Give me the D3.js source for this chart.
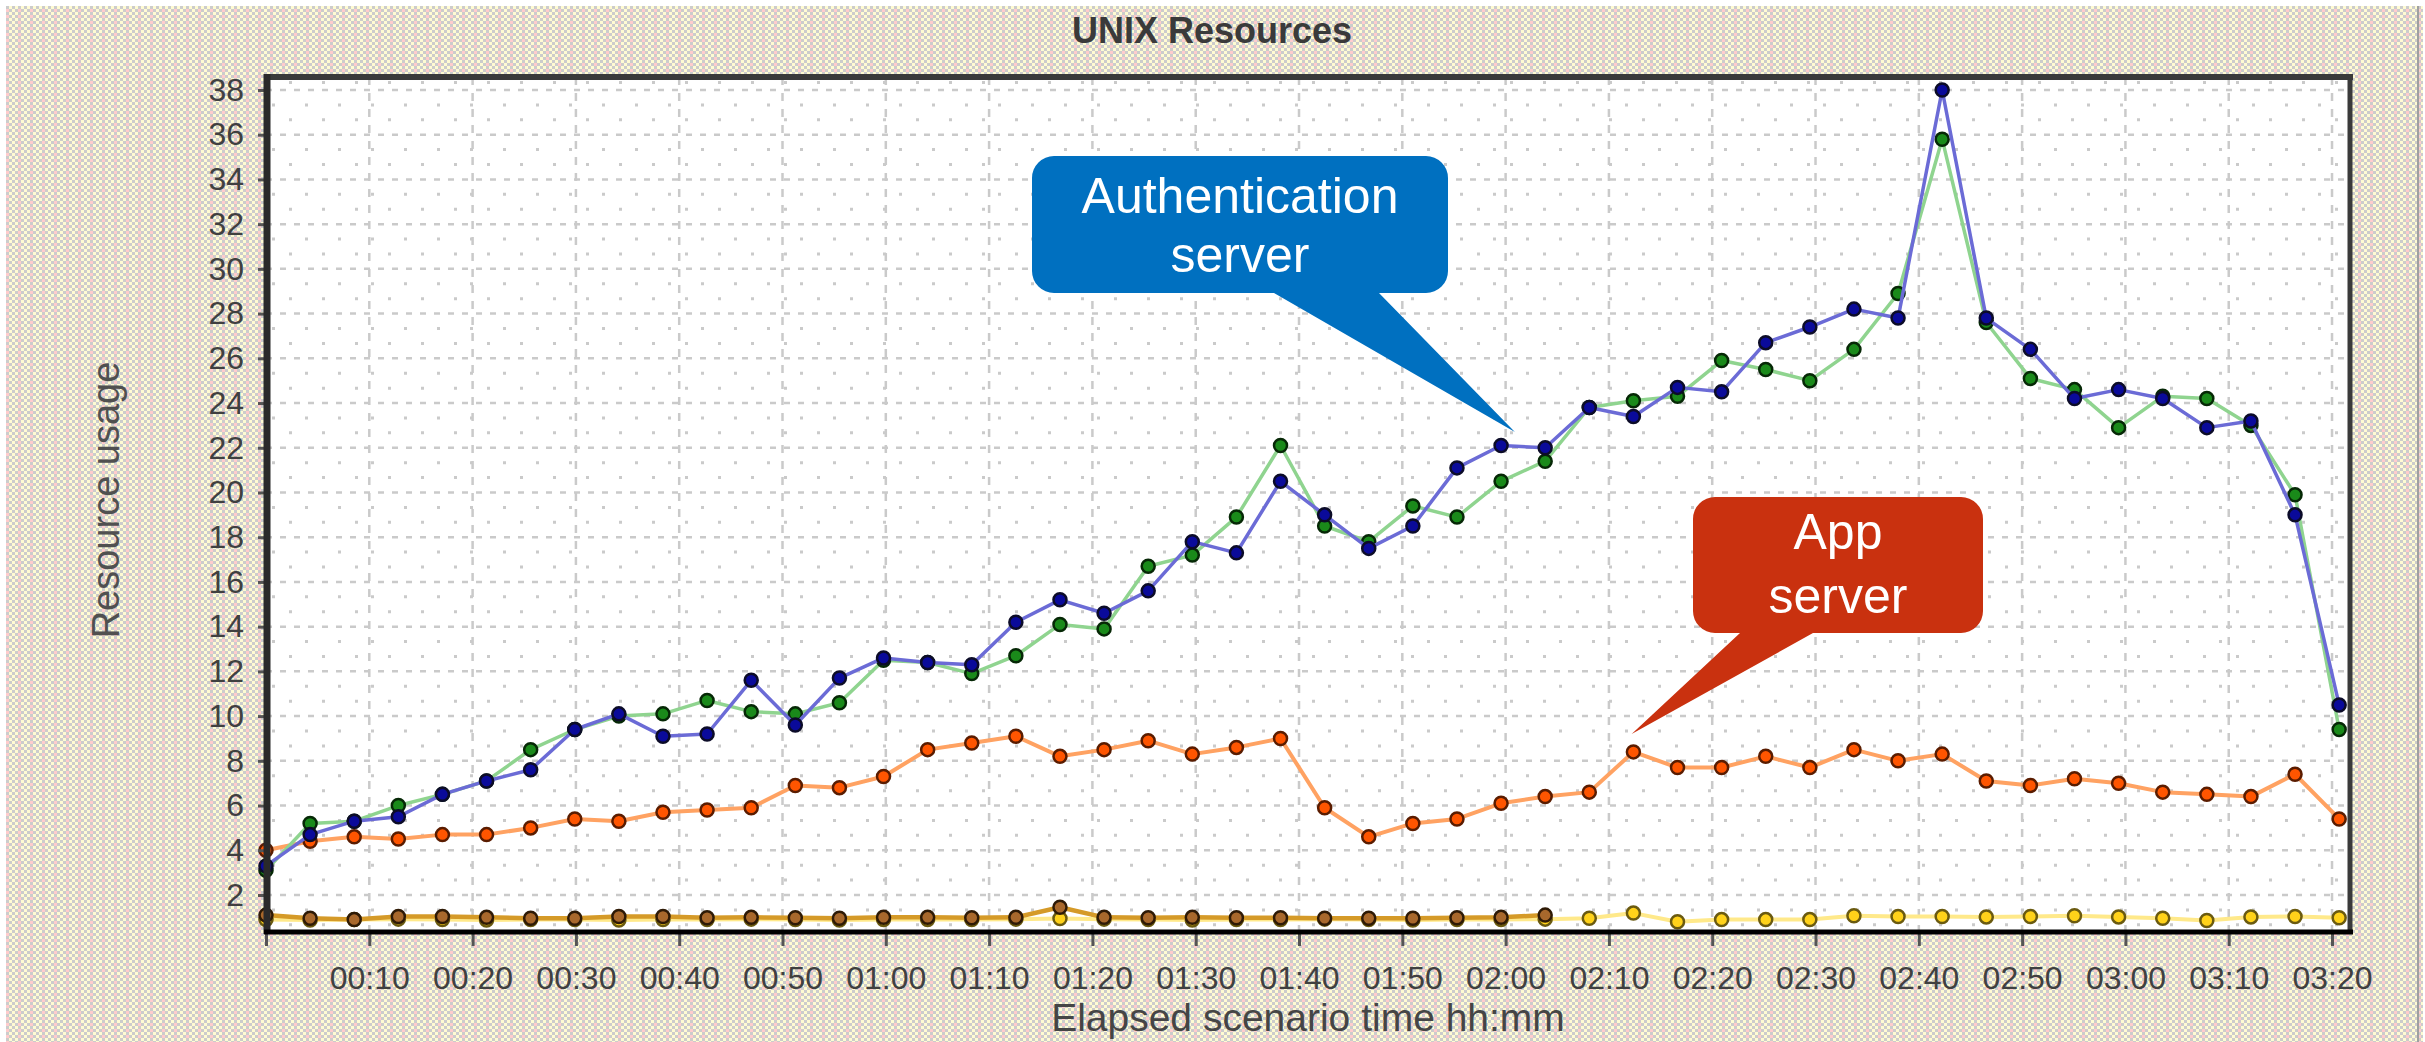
<!DOCTYPE html>
<html>
<head>
<meta charset="utf-8">
<title>UNIX Resources</title>
<script src="https://cdn.jsdelivr.net/npm/d3@7"></script>
<style>
    html, body { margin: 0; padding: 0; background: #ffffff; }
    svg { display: block; }
</style>
</head>
<body>
<div id="chart"></div>
<script>
// elapsed time of each sample, minutes
const times = [0, 4.27, 8.54, 12.81, 17.08, 21.35, 25.62, 29.89, 34.16, 38.43,
    42.70, 46.97, 51.24, 55.51, 59.78, 64.05, 68.32, 72.59, 76.86, 81.13,
    85.40, 89.67, 93.94, 98.21, 102.48, 106.75, 111.02, 115.29, 119.56, 123.83,
    128.10, 132.37, 136.64, 140.91, 145.18, 149.45, 153.72, 157.99, 162.26, 166.53,
    170.80, 175.07, 179.34, 183.61, 187.88, 192.15, 196.42, 200.69];

const auth_blue = [3.3, 4.7, 5.3, 5.5, 6.5, 7.1, 7.6, 9.4, 10.1, 9.1,
    9.2, 11.6, 9.6, 11.7, 12.6, 12.4, 12.3, 14.2, 15.2, 14.6,
    15.6, 17.8, 17.3, 20.5, 19.0, 17.5, 18.5, 21.1, 22.1, 22.0,
    23.8, 23.4, 24.7, 24.5, 26.7, 27.4, 28.2, 27.8, 38.0, 27.8,
    26.4, 24.2, 24.6, 24.2, 22.9, 23.2, 19.0, 10.5];

const auth_green = [3.1, 5.2, 5.3, 6.0, 6.5, 7.1, 8.5, 9.4, 10.0, 10.1,
    10.7, 10.2, 10.1, 10.6, 12.5, 12.4, 11.9, 12.7, 14.1, 13.9,
    16.7, 17.2, 18.9, 22.1, 18.5, 17.8, 19.4, 18.9, 20.5, 21.4,
    23.8, 24.1, 24.3, 25.9, 25.5, 25.0, 26.4, 28.9, 35.8, 27.6,
    25.1, 24.6, 22.9, 24.3, 24.2, 23.0, 19.9, 9.4];

const app_orange = [4.0, 4.4, 4.6, 4.5, 4.7, 4.7, 5.0, 5.4, 5.3, 5.7,
    5.8, 5.9, 6.9, 6.8, 7.3, 8.5, 8.8, 9.1, 8.2, 8.5,
    8.9, 8.3, 8.6, 9.0, 5.9, 4.6, 5.2, 5.4, 6.1, 6.4,
    6.6, 8.4, 7.7, 7.7, 8.2, 7.7, 8.5, 8.0, 8.3, 7.1,
    6.9, 7.2, 7.0, 6.6, 6.5, 6.4, 7.4, 5.4];

const low_yellow = [0.9, 0.88, 0.9, 0.92, 0.9, 0.88, 0.9, 0.9, 0.88, 0.9,
    0.9, 0.92, 0.9, 0.88, 0.9, 0.9, 0.9, 0.92, 0.95, 0.92,
    0.9, 0.88, 0.9, 0.9, 0.92, 0.9, 0.88, 0.9, 0.9, 0.92,
    0.96, 1.19, 0.8, 0.9, 0.9, 0.9, 1.07, 1.04, 1.04, 1.02,
    1.04, 1.07, 1.02, 0.96, 0.86, 1.02, 1.04, 0.98];

// brown series only runs over the first 30 samples
const low_brown = [1.1, 0.96, 0.9, 1.04, 1.04, 1.0, 0.96, 0.96, 1.04, 1.04,
    0.98, 1.0, 0.98, 0.96, 1.0, 1.0, 0.98, 1.0, 1.45, 1.0,
    0.98, 1.0, 0.98, 0.98, 0.96, 0.96, 0.96, 0.98, 1.0, 1.1];

const x_ticks = [0, 10, 20, 30, 40, 50, 60, 70, 80, 90, 100,
    110, 120, 130, 140, 150, 160, 170, 180, 190, 200];
const y_ticks = [2, 4, 6, 8, 10, 12, 14, 16, 18, 20,
    22, 24, 26, 28, 30, 32, 34, 36, 38];

const callouts = [
    {lines: ['Authentication', 'server'], fill: '#0070c0', box: [1032, 156, 1448, 293], base: [1274, 1379], tip: {t: 120.9, v: 22.7}, baselines: [213, 272]},
    {lines: ['App', 'server'], fill: '#c9310f', box: [1693, 497, 1983, 633], base: [1740, 1813], tip: {t: 132.2, v: 9.2}, baselines: [549, 613]}
];

(function() {
    const width = 2425, height = 1042;
    const plot = {left: 266, top: 77, right: 2350, bottom: 932};

    const svg = d3.select('#chart').append('svg')
        .attr('width', width)
        .attr('height', height)
        .attr('font-family', '"Liberation Sans", Arial, sans-serif');

    // dithered panel background
    let pattern = svg.append('defs').append('pattern')
        .attr('id', 'dither')
        .attr('width', 12).attr('height', 6)
        .attr('patternUnits', 'userSpaceOnUse');
    const cells = [
        [0, 0, '#cccccc'], [3, 0, '#fffbd2'], [6, 0, '#cccccc'], [9, 0, '#fffbd2'],
        [0, 3, '#fffbd2'], [3, 3, '#cccccc'], [6, 3, '#ffcccc'], [9, 3, '#cccccc']
    ];
    pattern.selectAll('rect').data(cells).enter().append('rect')
        .attr('x', (d) => d[0]).attr('y', (d) => d[1])
        .attr('width', 3).attr('height', 3)
        .attr('fill', (d) => d[2]);

    svg.append('rect')
        .attr('x', 6).attr('y', 6)
        .attr('width', width - 8).attr('height', height - 6)
        .attr('fill', 'url(#dither)');
    svg.append('line')
        .attr('x1', 2418).attr('x2', 2418).attr('y1', 6).attr('y2', height)
        .attr('stroke', '#a0a0a0').attr('stroke-width', 2);

    svg.append('rect')
        .attr('x', plot.left).attr('y', plot.top)
        .attr('width', plot.right - plot.left).attr('height', plot.bottom - plot.top)
        .attr('fill', '#ffffff');

    let x = d3.scaleLinear().domain([0, 201.74]).range([plot.left, plot.right]);
    let y = d3.scaleLinear().domain([0.345, 38.58]).range([plot.bottom, plot.top]);

    // grid: dashed major lines, sparse dots between them
    let grid = svg.append('g').attr('stroke', '#cacaca');

    let minor_rows = [];
    y_ticks.forEach(function(v, i) {
        minor_rows.push({v: v - 4/3, i: 2*i}, {v: v - 2/3, i: 2*i + 1});
    });
    minor_rows.push({v: 38 + 1/3, i: 40});

    grid.selectAll('.minor')
        .data(minor_rows.filter((d) => d.v > 0.5))
        .enter().append('line')
        .attr('class', 'minor')
        .attr('x1', plot.left + 6).attr('x2', plot.right)
        .attr('y1', (d) => y(d.v)).attr('y2', (d) => y(d.v))
        .attr('stroke-width', 3)
        .attr('stroke-dasharray', '3,30')
        .attr('stroke-dashoffset', (d) => (d.i % 2) ? 0 : 16);

    grid.selectAll('.hmajor')
        .data(y_ticks)
        .enter().append('line')
        .attr('class', 'hmajor')
        .attr('x1', plot.left).attr('x2', plot.right)
        .attr('y1', (d) => y(d)).attr('y2', (d) => y(d))
        .attr('stroke-width', 2.5)
        .attr('stroke-dasharray', '6,8');

    grid.selectAll('.vmajor')
        .data(x_ticks.filter((d) => d > 0))
        .enter().append('line')
        .attr('class', 'vmajor')
        .attr('x1', (d) => x(d)).attr('x2', (d) => x(d))
        .attr('y1', plot.top).attr('y2', plot.bottom)
        .attr('stroke-width', 2.5)
        .attr('stroke-dasharray', '8,8');

    // series, back to front
    const series = [
        {values: low_yellow, line: '#ffe98a', fill: '#ffd21a', stroke: '#6a5a10', width: 4},
        {values: low_brown, line: '#d59a28', fill: '#a8682c', stroke: '#2e1a06', width: 4.5},
        {values: app_orange, line: '#ffa262', fill: '#ff5500', stroke: '#5a1c00', width: 4},
        {values: auth_green, line: '#8fd48f', fill: '#1a8a1a', stroke: '#062806', width: 3.5},
        {values: auth_blue, line: '#6b6bd6', fill: '#0a0a9a', stroke: '#0c0c28', width: 3.5}
    ];

    let line = d3.line()
        .x((d) => x(d.t))
        .y((d) => y(d.v));

    series.forEach(function(s) {
        const points = s.values.map((v, i) => ({t: times[i], v: v}));
        let g = svg.append('g');
        g.append('path').datum(points)
            .attr('fill', 'none')
            .attr('stroke', s.line)
            .attr('stroke-width', s.width)
            .attr('stroke-linejoin', 'round')
            .attr('d', line);
        g.selectAll('circle')
            .data(points)
            .enter().append('circle')
            .attr('cx', (d) => x(d.t))
            .attr('cy', (d) => y(d.v))
            .attr('r', 6.5)
            .attr('fill', s.fill)
            .attr('stroke', s.stroke)
            .attr('stroke-width', 2.5);
    });

    // frame
    svg.append('line')
        .attr('x1', plot.left).attr('x2', plot.right + 3)
        .attr('y1', plot.top).attr('y2', plot.top)
        .attr('stroke', '#3a3a3a').attr('stroke-width', 6);
    svg.append('line')
        .attr('x1', plot.right).attr('x2', plot.right)
        .attr('y1', plot.top).attr('y2', plot.bottom)
        .attr('stroke', '#3a3a3a').attr('stroke-width', 5);

    let fmt_time = function(m) {
        if (m === 0) return '';
        const h = Math.floor(m / 60), mm = m % 60;
        return String(h).padStart(2, '0') + ':' + String(mm).padStart(2, '0');
    };

    let x_axis = svg.append('g')
        .attr('transform', 'translate(0,' + plot.bottom + ')')
        .call(d3.axisBottom(x).tickValues(x_ticks).tickSize(14).tickPadding(20).tickFormat(fmt_time));
    x_axis.select('.domain').remove();
    x_axis.selectAll('line').attr('stroke', '#555555').attr('stroke-width', 3);
    x_axis.selectAll('text')
        .attr('font-size', 32)
        .attr('fill', '#404040')
        .attr('font-family', '"Liberation Sans", Arial, sans-serif');

    let y_axis = svg.append('g')
        .attr('transform', 'translate(' + plot.left + ',0)')
        .call(d3.axisLeft(y).tickValues(y_ticks).tickSize(8).tickPadding(14));
    y_axis.select('.domain').remove();
    y_axis.selectAll('line').attr('stroke', '#555555').attr('stroke-width', 3);
    y_axis.selectAll('text')
        .attr('font-size', 32)
        .attr('fill', '#404040')
        .attr('font-family', '"Liberation Sans", Arial, sans-serif');

    svg.append('line')
        .attr('x1', plot.left + 1).attr('x2', plot.left + 1)
        .attr('y1', plot.top - 3).attr('y2', plot.bottom + 2)
        .attr('stroke', '#2a2a2a').attr('stroke-width', 7);
    svg.append('line')
        .attr('x1', plot.left - 2).attr('x2', plot.right + 3)
        .attr('y1', plot.bottom).attr('y2', plot.bottom)
        .attr('stroke', '#000000').attr('stroke-width', 5);

    // titles
    svg.append('text')
        .attr('x', 1212).attr('y', 43)
        .attr('text-anchor', 'middle')
        .attr('font-size', 36)
        .attr('font-weight', 'bold')
        .attr('fill', '#3a3a3a')
        .text('UNIX Resources');

    svg.append('text')
        .attr('x', (plot.left + plot.right) / 2).attr('y', 1031)
        .attr('text-anchor', 'middle')
        .attr('font-size', 39)
        .attr('fill', '#454545')
        .text('Elapsed scenario time hh:mm');

    svg.append('text')
        .attr('transform', 'translate(119,500) rotate(-90)')
        .attr('text-anchor', 'middle')
        .attr('font-size', 38)
        .attr('fill', '#505050')
        .text('Resource usage');

    // speech-bubble callouts
    let bubble_path = function(c) {
        const [x0, y0, x1, y1] = c.box, r = 22;
        const tx = x(c.tip.t), ty = y(c.tip.v);
        return 'M' + (x0 + r) + ',' + y0 +
            'H' + (x1 - r) + 'A' + r + ',' + r + ' 0 0 1 ' + x1 + ',' + (y0 + r) +
            'V' + (y1 - r) + 'A' + r + ',' + r + ' 0 0 1 ' + (x1 - r) + ',' + y1 +
            'H' + c.base[1] + 'L' + tx + ',' + ty + 'L' + c.base[0] + ',' + y1 +
            'H' + (x0 + r) + 'A' + r + ',' + r + ' 0 0 1 ' + x0 + ',' + (y1 - r) +
            'V' + (y0 + r) + 'A' + r + ',' + r + ' 0 0 1 ' + (x0 + r) + ',' + y0 + 'Z';
    };

    let bubbles = svg.selectAll('.callout')
        .data(callouts)
        .enter().append('g')
        .attr('class', 'callout');

    bubbles.append('path')
        .attr('d', bubble_path)
        .attr('fill', (d) => d.fill);

    bubbles.each(function(c) {
        const cx = (c.box[0] + c.box[2]) / 2;
        d3.select(this).selectAll('text')
            .data(c.lines)
            .enter().append('text')
            .attr('x', cx)
            .attr('y', (d, i) => c.baselines[i])
            .attr('text-anchor', 'middle')
            .attr('font-size', 50)
            .attr('fill', '#ffffff')
            .text((d) => d);
    });
}());
</script>
</body>
</html>
